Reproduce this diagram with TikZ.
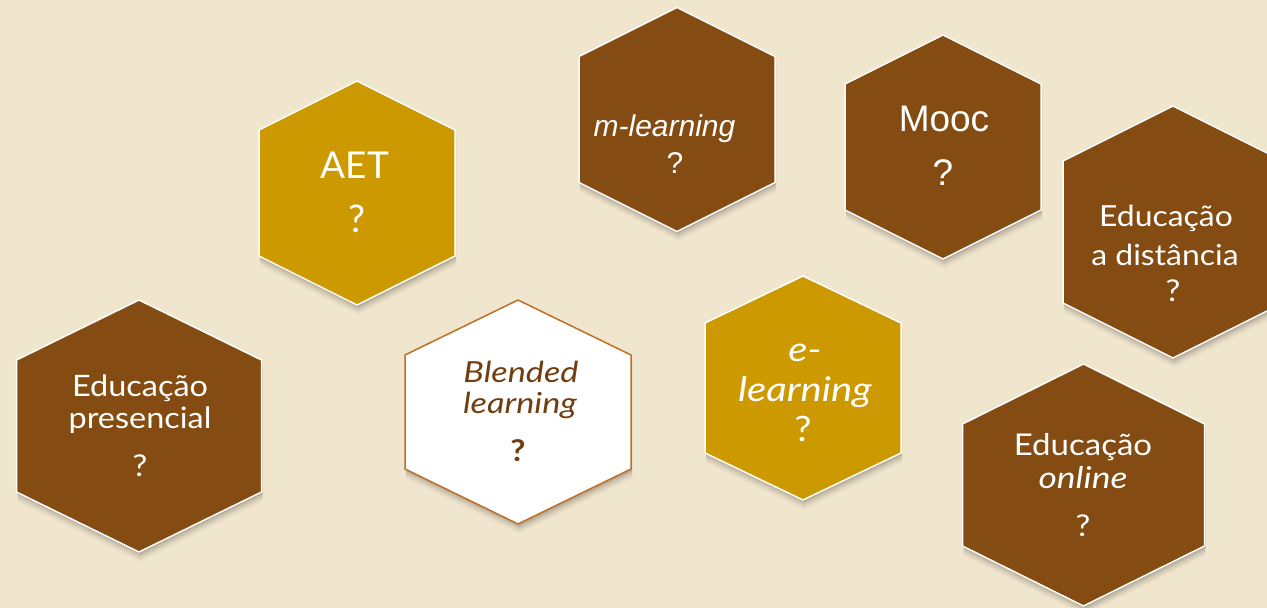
\documentclass[tikz,border=0pt]{standalone}
\usepackage{fontspec}
\newfontfamily\latof[FakeStretch=1.1]{Lato}
\newfontfamily\latoit[FakeStretch=1.18]{Lato}
\newfontfamily\latoaet{Lato}
\newfontfamily\arialf{Liberation Sans}
\definecolor{bg}{RGB}{240,229,205}
\definecolor{hbrown}{RGB}{132,76,18}
\definecolor{hgold}{RGB}{204,153,0}
\definecolor{bborder}{RGB}{190,112,40}
\definecolor{btext}{RGB}{112,62,16}
\newcommand\hexshape[5]{(#1,#2-#4) -- (#1+#3,#2-#5) -- (#1+#3,#2+#5) -- (#1,#2+#4) -- (#1-#3,#2+#5) -- (#1-#3,#2-#5) -- cycle}
\newcommand\hexa[6]{%
  \foreach \d/\o in {2/0.09,4/0.07,6/0.05,8/0.035,10/0.02}{%
    \fill[black,opacity=\o] \hexshape{#2+1}{#3+\d}{#4}{#5}{#6};}
  \path[#1] \hexshape{#2}{#3}{#4}{#5}{#6};}
\tikzset{
  brownhex/.style={fill=hbrown,draw=white,line width=1.5pt,line join=miter},
  goldhex/.style={fill=hgold,draw=white,line width=1.5pt,line join=miter},
  whitehex/.style={fill=white,draw=bborder,line width=1.5pt,line join=miter},
  lbl/.style={anchor=base,inner sep=0pt,text=white},
}
\begin{document}
\begin{tikzpicture}[x=1pt,y=-1pt]
\fill[bg] (0,0) rectangle (1267,608);
\useasboundingbox (0,0) rectangle (1267,608);
\clip (0,0) rectangle (1267,608);
% hexagons
\hexa{brownhex}{139}{426}{122.5}{126}{66}
\hexa{goldhex}{357}{193}{98}{112}{63}
\hexa{brownhex}{677}{119.5}{98}{112}{63}
\hexa{brownhex}{943}{147}{98}{112}{63}
\hexa{brownhex}{1173}{232}{110}{126}{71}
\hexa{whitehex}{518}{412}{113}{112}{57}
\hexa{goldhex}{803}{388}{98}{112}{65}
\hexa{brownhex}{1083.5}{485}{121}{121}{61}
% texts
\node[lbl,font=\latof\fontsize{29.5}{30}\selectfont] (pres1) at (140,396) {Educação};
\node[lbl,font=\latof\fontsize{29.5}{30}\selectfont] (pres2) at (140,428) {presencial};
\node[lbl,font=\latof\fontsize{30}{30}\selectfont] (presq) at (140,476) {?};
\node[lbl,font=\latoaet\fontsize{37}{40}\selectfont] (aet1) at (355,178) {AET};
\node[lbl,font=\latoaet\fontsize{38}{40}\selectfont] (aetq) at (357,232) {?};
\node[lbl,font=\arialf\itshape\fontsize{30}{32}\selectfont] (ml1) at (664.5,136.7) {m-learning};
\node[lbl,font=\arialf\fontsize{30}{32}\selectfont] (mlq) at (675,173) {?};
\node[lbl,font=\arialf\fontsize{37}{40}\selectfont] (mooc1) at (944,131.7) {Mooc};
\node[lbl,font=\arialf\fontsize{37}{40}\selectfont] (moocq) at (943,185) {?};
\node[lbl,font=\latof\fontsize{29}{31}\selectfont] (dist1) at (1166,226.7) {Educação};
\node[lbl,font=\latof\fontsize{29}{31}\selectfont] (dist2) at (1165,265) {a distância};
\node[lbl,font=\latof\fontsize{30}{31}\selectfont] (distq) at (1173,301.7) {?};
\node[lbl,text=btext,font=\latoit\itshape\fontsize{29}{31}\selectfont] (bl1) at (521,382.7) {Blended};
\node[lbl,text=btext,font=\latoit\itshape\fontsize{29}{31}\selectfont] (bl2) at (520,413.3) {learning};
\node[lbl,text=btext,font=\latof\bfseries\fontsize{30}{31}\selectfont] (blq) at (518,461.7) {?};
\node[lbl,font=\latoit\itshape\fontsize{34}{36}\selectfont] (el1) at (805,361.7) {e-};
\node[lbl,font=\latoit\itshape\fontsize{34}{36}\selectfont] (el2) at (805,401.7) {learning};
\node[lbl,font=\latof\fontsize{35}{36}\selectfont] (elq) at (803,441.7) {?};
\node[lbl,font=\latof\fontsize{30}{32}\selectfont] (on1) at (1083,455) {Educação};
\node[lbl,font=\latoit\itshape\fontsize{30}{32}\selectfont] (on2) at (1083,488.3) {online};
\node[lbl,font=\latof\fontsize{30}{31}\selectfont] (onq) at (1083,536.7) {?};
\end{tikzpicture}
\end{document}
